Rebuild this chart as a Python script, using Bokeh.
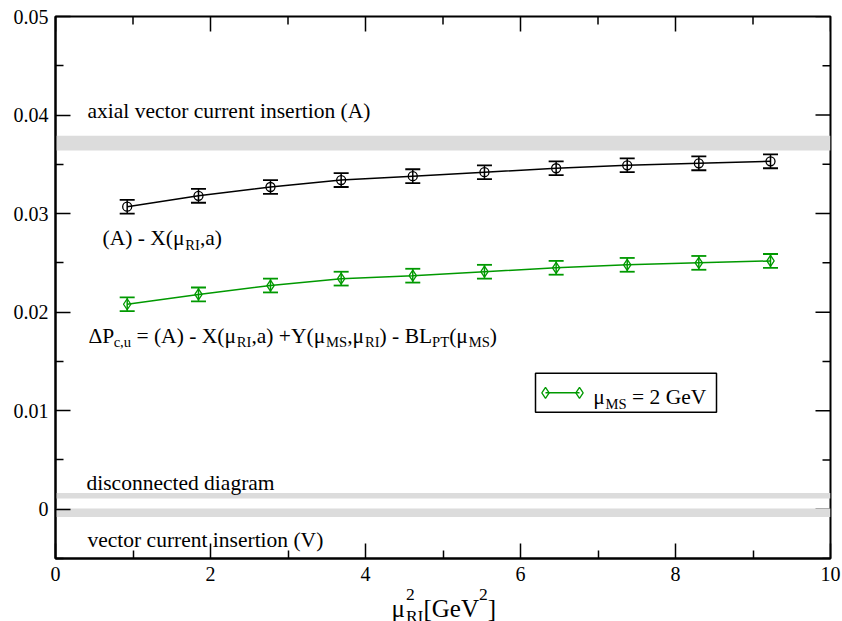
from bokeh.plotting import figure
from bokeh.layouts import column
from bokeh.models import (Label, Whisker, TeeHead, ColumnDataSource, FixedTicker,
                          Range1d, BoxAnnotation)
from bokeh.embed import file_html
from bokeh.resources import INLINE

# ---------------- data ----------------
mu2_RI = [0.925, 1.845, 2.774, 3.686, 4.610, 5.535, 6.460, 7.377, 8.301, 9.226]
A_minus_X = [0.0307, 0.0318, 0.0327, 0.0334, 0.0338, 0.0342, 0.0346, 0.0349, 0.0351, 0.0353]
A_minus_X_err = [0.0007, 0.0007, 0.0007, 0.0007, 0.0007, 0.0007, 0.0007, 0.0007, 0.0007, 0.0007]
dP_cu = [0.0208, 0.0218, 0.0227, 0.0234, 0.0237, 0.0241, 0.0245, 0.0248, 0.0250, 0.0252]
dP_cu_err = [0.0007, 0.0007, 0.0007, 0.0007, 0.0007, 0.0007, 0.0007, 0.0007, 0.0007, 0.0007]

band_names = ["axial", "disconnected", "vector"]
band_low = [0.0364, 0.0011, -0.0008]
band_high = [0.0379, 0.00165, 0.00007]

x_ticks = [0, 2, 4, 6, 8, 10]
x_minor = [1, 3, 5, 7, 9]
y_ticks = [0, 0.01, 0.02, 0.03, 0.04, 0.05]
y_tick_labels = ["0", "0.01", "0.02", "0.03", "0.04", "0.05"]
y_minor = [-0.005, 0.005, 0.015, 0.025, 0.035, 0.045]

# ---------------- layout ----------------
FONT = "Liberation Serif"
GREEN = "#009900"
WIDTH, HEIGHT = 842, 621
FL, FT, FW, FH = 55, 16, 775, 542
FR = WIDTH - FL - FW
FB = 45                      # border below the frame (x tick labels)
MAIN_H = FT + FH + FB
STRIP_TOP = 562              # the title strip overlaps the lower border
XR = (0, 10)
YR = (-0.005, 0.05)
MAJ, MIN = 15, 8


def dx(px):
    return XR[0] + (px - FL) / FW * (XR[1] - XR[0])


def dy(py):
    return YR[1] - (py - FT) / FH * (YR[1] - YR[0])


p = figure(frame_width=FW, frame_height=FH, output_backend="svg", toolbar_location=None,
           x_range=Range1d(*XR), y_range=Range1d(*YR),
           min_border_left=FL, min_border_top=FT, min_border_right=FR,
           min_border_bottom=FB)
p.xgrid.visible = False
p.ygrid.visible = False
p.outline_line_color = "black"
p.outline_line_width = 2
p.background_fill_color = "white"
p.border_fill_color = "white"

bx = p.below[0]
ly = p.left[0]
bx.ticker = FixedTicker(ticks=x_ticks, minor_ticks=x_minor)
ly.ticker = FixedTicker(ticks=y_ticks, minor_ticks=y_minor)
ly.major_label_overrides = {t: l for t, l in zip(y_ticks, y_tick_labels)}
for ax in (bx, ly):
    ax.axis_line_width = 2
    ax.axis_line_color = "black"
    ax.major_tick_in = MAJ
    ax.major_tick_out = 0
    ax.minor_tick_in = MIN
    ax.minor_tick_out = 0
    ax.major_tick_line_width = 1.5
    ax.minor_tick_line_width = 1.5
    ax.major_tick_line_color = "black"
    ax.minor_tick_line_color = "black"
    ax.major_label_text_font = FONT
    ax.major_label_text_color = "black"
    ax.major_label_text_font_size = "20px"
ly.major_label_standoff = 7
bx.major_label_standoff = 8

# mirrored ticks on the top and right edges (inward)
ty = YR[1]
rx = XR[1]
tl_maj = MAJ / FH * (YR[1] - YR[0])
tl_min = MIN / FH * (YR[1] - YR[0])
rl_maj = MAJ / FW * (XR[1] - XR[0])
rl_min = MIN / FW * (XR[1] - XR[0])
p.segment(x0=x_ticks, x1=x_ticks, y0=[ty] * len(x_ticks), y1=[ty - tl_maj] * len(x_ticks),
          line_color="black", line_width=1.5)
p.segment(x0=x_minor, x1=x_minor, y0=[ty] * len(x_minor), y1=[ty - tl_min] * len(x_minor),
          line_color="black", line_width=1.5)
p.segment(x0=[rx] * len(y_ticks), x1=[rx - rl_maj] * len(y_ticks), y0=y_ticks, y1=y_ticks,
          line_color="black", line_width=1.5)
p.segment(x0=[rx] * len(y_minor), x1=[rx - rl_min] * len(y_minor), y0=y_minor, y1=y_minor,
          line_color="black", line_width=1.5)

# ---------------- bands ----------------
p.quad(left=[XR[0]] * len(band_low), right=[XR[1]] * len(band_low),
       bottom=band_low, top=band_high, fill_color="#dcdcdc", line_color=None)


# ---------------- series ----------------
def series(y, err, color, marker, msize):
    src = ColumnDataSource(dict(x=mu2_RI, y=y,
                                lo=[a - e for a, e in zip(y, err)],
                                hi=[a + e for a, e in zip(y, err)]))
    p.line("x", "y", source=src, line_color=color, line_width=1.5)
    w = Whisker(source=src, base="x", lower="lo", upper="hi", dimension="height",
                line_color=color, line_width=1.5,
                upper_head=TeeHead(size=15, line_color=color, line_width=1.8),
                lower_head=TeeHead(size=15, line_color=color, line_width=1.8))
    p.add_layout(w)
    p.scatter("x", "y", source=src, marker=marker, size=msize, fill_color=None,
              line_color=color, line_width=1.3)


series(A_minus_X, A_minus_X_err, "black", "circle", 9)
series(dP_cu, dP_cu_err, GREEN, "diamond", 11)

# ---------------- rich text helper ----------------
W = {' ': 250, '(': 333, ')': 333, '[': 333, ']': 333, '+': 564, ',': 250, '-': 333,
     '.': 250, '=': 564, 'A': 722, 'B': 667, 'G': 722, 'I': 333, 'L': 611, 'M': 889,
     'P': 556, 'R': 667, 'S': 556, 'T': 611, 'V': 722, 'X': 722, 'Y': 722,
     'a': 444, 'c': 444, 'e': 444, 'u': 500, 'μ': 576, 'Δ': 613}
for d in "0123456789":
    W[d] = 500


def tw(s, fs):
    return sum(W.get(ch, 500) for ch in s) / 1000.0 * fs


def rich(fig, x, y, segs, size, color="black", sub=0.68, dsub=0.32, dsup=0.42):
    off = 0.0
    for text, kind in segs:
        if kind == "n":
            fs, yo = size, 0
        elif kind == "sub":
            fs, yo = size * sub, -dsub * size
        elif kind == "sup":
            fs, yo = size * sub, dsup * size
        else:  # "supsub": superscript over subscript, text = "sup|sub"
            sp, sb = text.split("|")
            fs = size * sub
            for tt, yy in ((sp, dsup * size), (sb, -dsub * size)):
                fig.add_layout(Label(x=x, y=y, x_offset=off, y_offset=yy, text=tt,
                                     text_font=FONT, text_font_size=f"{fs:.1f}px",
                                     text_color=color, text_baseline="alphabetic"))
            off += max(tw(sp, fs), tw(sb, fs))
            continue
        lead = len(text) - len(text.lstrip(" "))
        trail = len(text) - len(text.rstrip(" "))
        off += tw(" " * lead, fs)
        core = text.strip(" ")
        if core:
            fig.add_layout(Label(x=x, y=y, x_offset=off, y_offset=yo, text=core,
                                 text_font=FONT, text_font_size=f"{fs:.1f}px",
                                 text_color=color, text_baseline="alphabetic",
                                 text_align="left"))
            off += tw(core, fs)
        off += tw(" " * trail, fs)
    return off


TS = 21.5
rich(p, dx(87), dy(110), [("axial vector current insertion (A)", "n")], TS)
rich(p, dx(102), dy(237.3), [("(A) - X(μ", "n"), ("RI", "sub"), (",a)", "n")], TS)
rich(p, dx(88), dy(335), [("ΔP", "n"), ("c,u", "sub"), (" = (A) - X(μ", "n"), ("RI", "sub"),
                           (",a) +Y(μ", "n"), ("MS", "sub"), (",μ", "n"), ("RI", "sub"),
                           (") - BL", "n"), ("PT", "sub"), ("(μ", "n"), ("MS", "sub"),
                           (")", "n")], TS)
rich(p, dx(86), dy(482), [("disconnected diagram", "n")], TS)
rich(p, dx(87), dy(539), [("vector current insertion (V)", "n")], TS)

# ---------------- legend ----------------
p.add_layout(BoxAnnotation(left=dx(535), right=dx(716), top=dy(372.7), bottom=dy(411.7),
                           fill_color="white", fill_alpha=1.0, line_color="black",
                           line_alpha=1.0, line_width=1.5, level="underlay"))
p.line([dx(545), dx(579)], [dy(392.3), dy(392.3)], line_color=GREEN, line_width=1.5)
p.scatter([dx(545), dx(579)], [dy(392.3), dy(392.3)], marker="diamond", size=11,
          fill_color=None, line_color=GREEN, line_width=1.3)
rich(p, dx(592.7), dy(396.7), [("μ", "n"), ("MS", "sub"), (" = 2 GeV", "n")], TS)

# ---------------- transparent strip for the x-axis title ----------------
TH = HEIGHT - STRIP_TOP
t = figure(frame_width=FW, frame_height=TH, output_backend="svg", toolbar_location=None,
           x_range=p.x_range, y_range=Range1d(0, TH),
           x_axis_location=None, y_axis_location=None,
           min_border_left=FL, min_border_right=FR, min_border_top=0, min_border_bottom=0,
           margin=(STRIP_TOP - MAIN_H, 0, 0, 0))
t.xgrid.visible = False
t.ygrid.visible = False
t.outline_line_color = None
t.background_fill_alpha = 0
t.border_fill_alpha = 0

XS = 25
rich(t, dx(391), HEIGHT - 608, [("μ", "n"), ("2|RI", "supsub"), ("[GeV", "n"), ("2", "sup"),
                                 ("]", "n")], XS, sub=0.7, dsub=0.3, dsup=0.55)

layout = column(p, t, spacing=0)
open("out.html", "w").write(file_html(layout, INLINE))
